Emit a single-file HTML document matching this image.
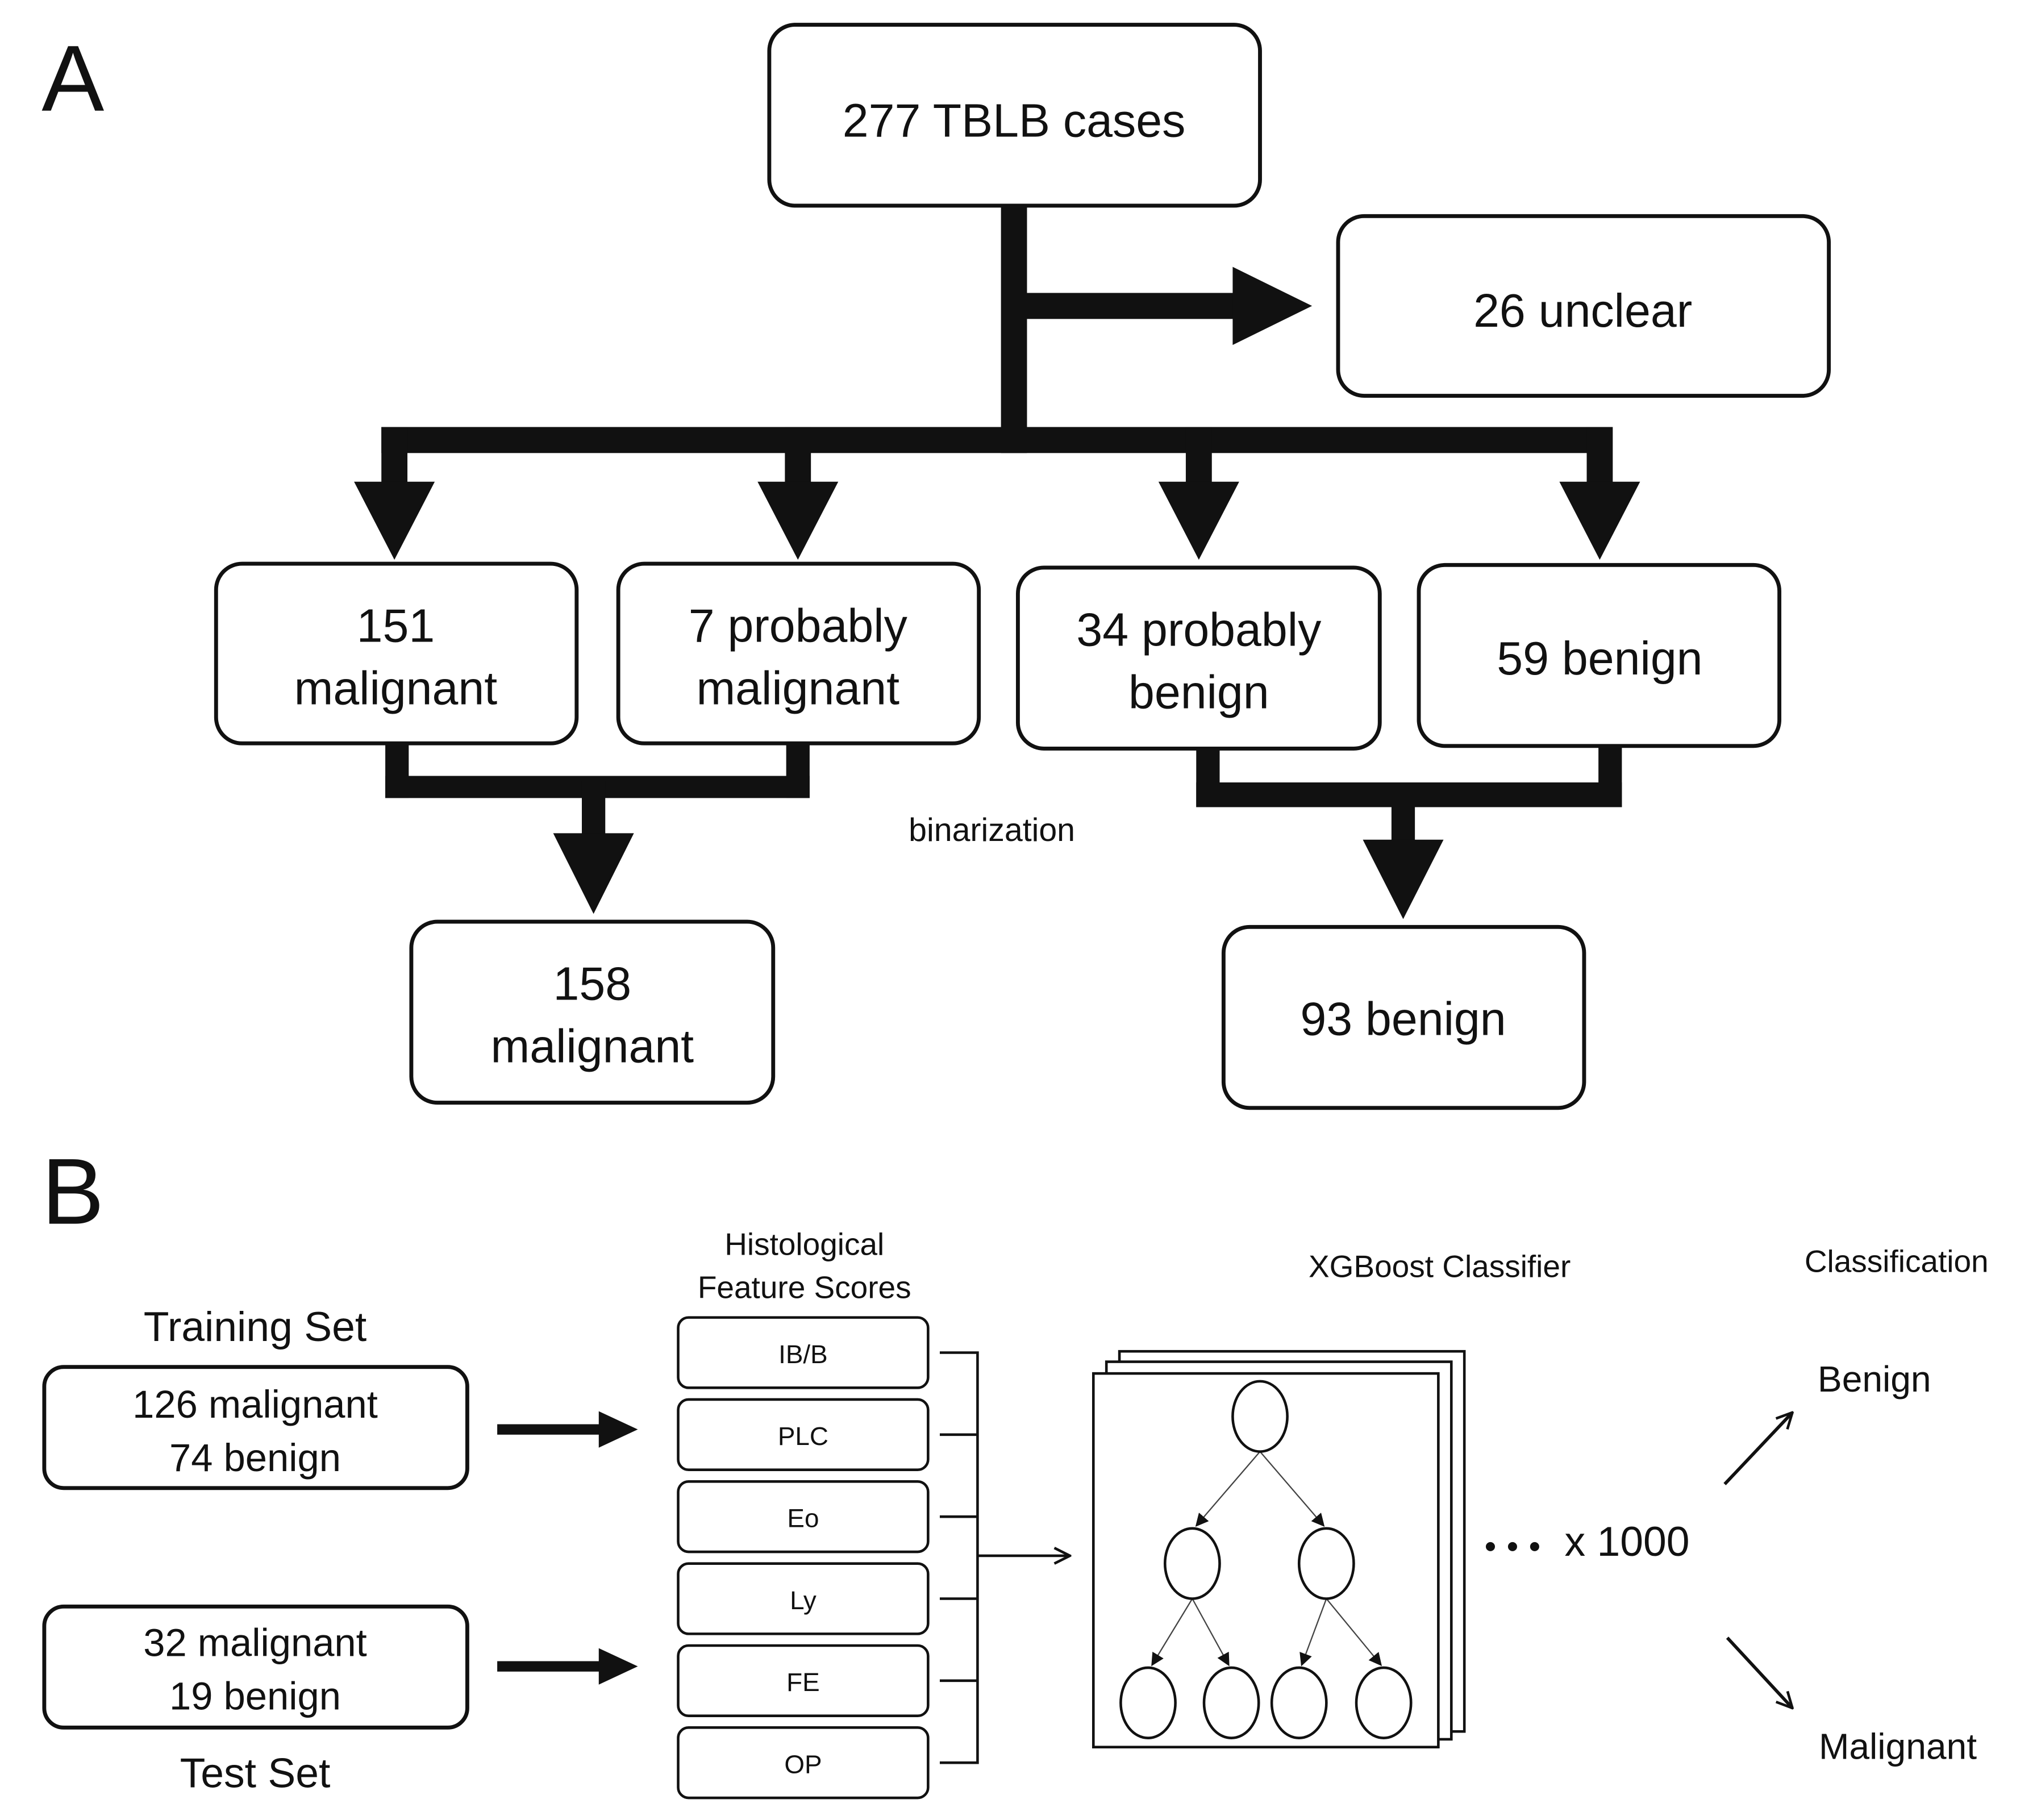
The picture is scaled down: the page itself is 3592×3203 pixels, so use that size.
<!DOCTYPE html>
<html><head><meta charset="utf-8"><style>
html,body{margin:0;padding:0;background:#fff;}
svg{display:block;}
text{font-family:"Liberation Sans",sans-serif;fill:#111;text-anchor:middle;}
</style></head><body>
<svg width="3592" height="3203" viewBox="0 0 1568 1398" preserveAspectRatio="none" xmlns="http://www.w3.org/2000/svg">
<defs>
<marker id="ah" markerWidth="10" markerHeight="10" refX="9" refY="5" orient="auto" markerUnits="userSpaceOnUse">
<path d="M0,0 L10,5 L0,10 z" fill="#111"/></marker>
<marker id="ah2" markerWidth="14" markerHeight="14" refX="13" refY="7" orient="auto" markerUnits="userSpaceOnUse">
<path d="M1,1 L13,7 L1,13" fill="none" stroke="#111" stroke-width="2"/></marker>
</defs>
<text x="56" y="85" style="font-size:72px">A</text>
<text x="56" y="940" style="font-size:72px">B</text>

<g fill="none" stroke="#111" stroke-width="3">
<rect x="591" y="19" width="377" height="139" rx="20"/>
<rect x="1028" y="166" width="377" height="138" rx="20"/>
<rect x="166" y="433" width="277" height="138" rx="20"/>
<rect x="475" y="433" width="277" height="138" rx="20"/>
<rect x="782" y="436" width="278" height="139" rx="20"/>
<rect x="1090" y="434" width="277" height="139" rx="20"/>
<rect x="316" y="708" width="278" height="139" rx="20"/>
<rect x="940" y="712" width="277" height="139" rx="20"/>
</g>
<g fill="#111">
<rect x="769" y="158" width="20" height="190"/>
<rect x="779" y="225" width="172" height="20"/>
<polygon points="947,205 1008,235 947,265"/>
<rect x="293" y="328" width="945" height="20"/>
<rect x="293" y="328" width="20" height="44"/><polygon points="272,370 334,370 303,430"/>
<rect x="603" y="328" width="20" height="44"/><polygon points="582,370 644,370 613,430"/>
<rect x="911" y="328" width="20" height="44"/><polygon points="890,370 952,370 921,430"/>
<rect x="1219" y="328" width="20" height="44"/><polygon points="1198,370 1260,370 1229,430"/>
<rect x="296" y="571" width="18" height="42"/><rect x="604" y="571" width="18" height="42"/>
<rect x="296" y="596" width="326" height="17"/>
<rect x="447" y="600" width="18" height="43"/><polygon points="425,640 487,640 456,702"/>
<rect x="919" y="575" width="18" height="45"/><rect x="1228" y="573" width="18" height="47"/>
<rect x="919" y="601" width="327" height="19"/>
<rect x="1069" y="605" width="18" height="43"/><polygon points="1047,645 1109,645 1078,706"/>
</g>
<g style="font-size:36px">
<text x="779" y="105">277 TBLB cases</text>
<text x="1216" y="251">26 unclear</text>
<text x="304" y="493">151</text><text x="304" y="541">malignant</text>
<text x="613" y="493">7 probably</text><text x="613" y="541">malignant</text>
<text x="921" y="496">34 probably</text><text x="921" y="544">benign</text>
<text x="1229" y="518">59 benign</text>
<text x="455" y="768">158</text><text x="455" y="816">malignant</text>
<text x="1078" y="795">93 benign</text>
</g>
<text x="762" y="646" style="font-size:25px">binarization</text>

<text x="196" y="1030" style="font-size:32px">Training Set</text>
<text x="196" y="1373" style="font-size:32px">Test Set</text>
<g fill="none" stroke="#111" stroke-width="3">
<rect x="34" y="1050" width="325" height="93" rx="15"/>
<rect x="34" y="1234" width="325" height="93" rx="15"/>
</g>
<g style="font-size:30px">
<text x="196" y="1089">126 malignant</text><text x="196" y="1130">74 benign</text>
<text x="196" y="1272">32 malignant</text><text x="196" y="1313">19 benign</text>
</g>
<g fill="#111">
<rect x="382" y="1094" width="80" height="8"/><polygon points="460,1084 490,1098 460,1112"/>
<rect x="382" y="1276" width="80" height="8"/><polygon points="460,1266 490,1280 460,1294"/>
</g>
<text x="618" y="964" style="font-size:24px">Histological</text>
<text x="618" y="997" style="font-size:24px">Feature Scores</text>
<g fill="none" stroke="#111" stroke-width="2">
<rect x="521" y="1012" width="192" height="54" rx="8"/>
<rect x="521" y="1075" width="192" height="54" rx="8"/>
<rect x="521" y="1138" width="192" height="54" rx="8"/>
<rect x="521" y="1201" width="192" height="54" rx="8"/>
<rect x="521" y="1264" width="192" height="54" rx="8"/>
<rect x="521" y="1327" width="192" height="54" rx="8"/>
<path d="M722,1039 H751 M722,1102 H751 M722,1165 H751 M722,1228 H751 M722,1291 H751 M722,1354 H751 M751,1038 V1355"/>
<line x1="751" y1="1195" x2="822" y2="1195" marker-end="url(#ah2)"/>
</g>
<g style="font-size:20px">
<text x="617" y="1047">IB/B</text><text x="617" y="1110">PLC</text><text x="617" y="1173">Eo</text>
<text x="617" y="1236">Ly</text><text x="617" y="1299">FE</text><text x="617" y="1362">OP</text>
</g>
<text x="1106" y="981" style="font-size:24px">XGBoost Classifier</text>
<g fill="#fff" stroke="#111" stroke-width="2">
<rect x="860" y="1038" width="265" height="292"/>
<rect x="850" y="1046" width="265" height="290"/>
<rect x="840" y="1055" width="265" height="287"/>
</g>
<g stroke="#444" stroke-width="1" fill="none">
<line x1="968" y1="1115" x2="919" y2="1172" marker-end="url(#ah)"/>
<line x1="968" y1="1115" x2="1017" y2="1172" marker-end="url(#ah)"/>
<line x1="916" y1="1228" x2="885" y2="1279" marker-end="url(#ah)"/>
<line x1="916" y1="1228" x2="944" y2="1279" marker-end="url(#ah)"/>
<line x1="1019" y1="1228" x2="1000" y2="1279" marker-end="url(#ah)"/>
<line x1="1019" y1="1228" x2="1061" y2="1279" marker-end="url(#ah)"/>
</g>
<g fill="none" stroke="#111" stroke-width="2">
<ellipse cx="968" cy="1088" rx="21" ry="27"/>
<ellipse cx="916" cy="1201" rx="21" ry="27"/>
<ellipse cx="1019" cy="1201" rx="21" ry="27"/>
<ellipse cx="882" cy="1308" rx="21" ry="27"/>
<ellipse cx="946" cy="1308" rx="21" ry="27"/>
<ellipse cx="998" cy="1308" rx="21" ry="27"/>
<ellipse cx="1063" cy="1308" rx="21" ry="27"/>
</g>
<g fill="#111"><circle cx="1145" cy="1188" r="3.5"/><circle cx="1162" cy="1188" r="3.5"/><circle cx="1179" cy="1188" r="3.5"/></g>
<text x="1250" y="1195" style="font-size:32px">x 1000</text>
<text x="1457" y="977" style="font-size:24px">Classification</text>
<text x="1440" y="1069" style="font-size:28px">Benign</text>
<text x="1458" y="1351" style="font-size:28px">Malignant</text>
<g stroke="#111" stroke-width="2.5" fill="none">
<line x1="1325" y1="1140" x2="1377" y2="1085" marker-end="url(#ah2)"/>
<line x1="1327" y1="1258" x2="1377" y2="1312" marker-end="url(#ah2)"/>
</g>
</svg>
</body></html>
